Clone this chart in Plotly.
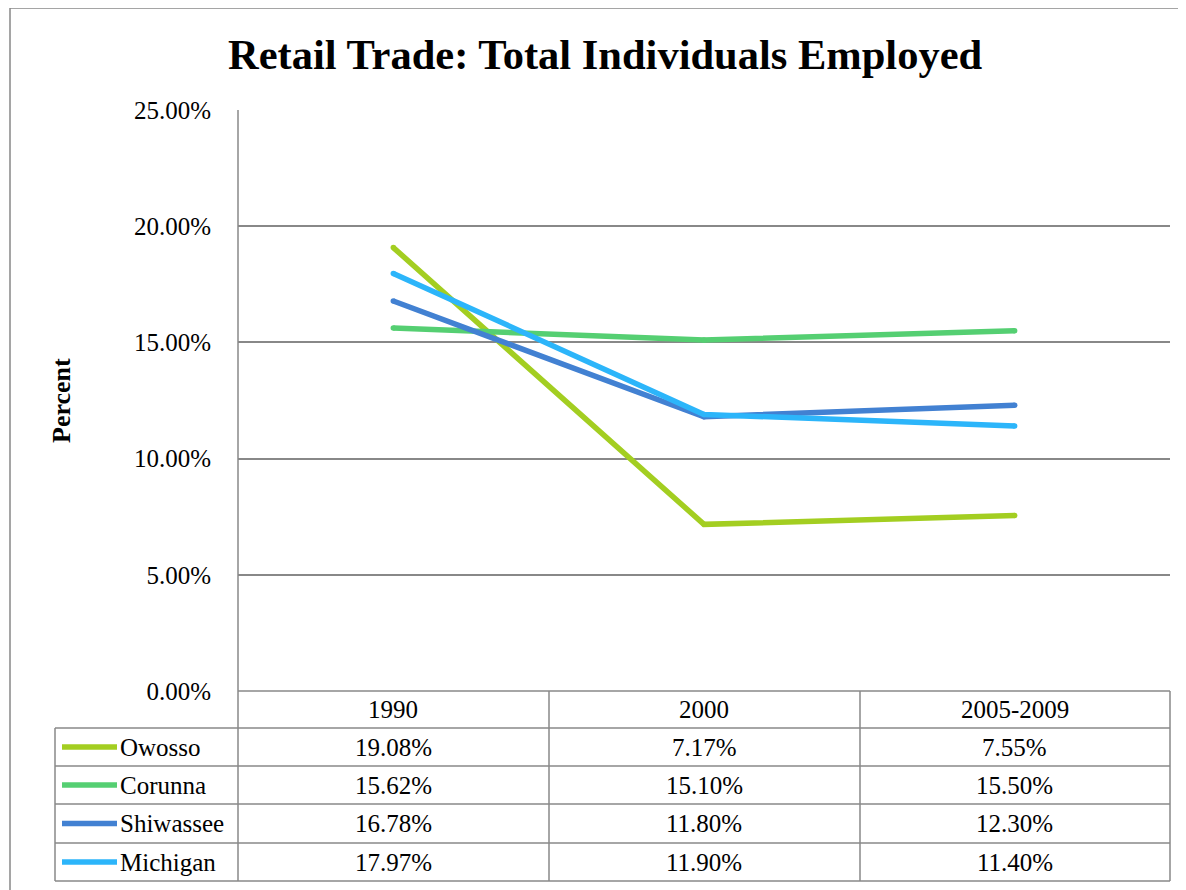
import plotly.graph_objects as go

# ---- data ----
categories = ["1990", "2000", "2005-2009"]
series_names = ["Owosso", "Corunna", "Shiwassee", "Michigan"]
owosso = [19.08, 7.17, 7.55]
corunna = [15.62, 15.10, 15.50]
shiwassee = [16.78, 11.80, 12.30]
michigan = [17.97, 11.90, 11.40]
series_values = [owosso, corunna, shiwassee, michigan]
y_ticks = [0, 5, 10, 15, 20, 25]

# ---- styles ----
colors = ["#A3CE21", "#55CF72", "#4281D2", "#2CB5FA"]
grid_col = "#888888"
FONT = "Liberation Serif, Times New Roman, serif"
W, H = 1186, 890
OFF = 8  # page body margin offset


def px(x):
    return (x - OFF) / W


def py(y):
    return 1 - (y - OFF) / H


PL, PR, PT, PB = 238, 1170, 110, 691
row_edges = [691, 728, 766, 804, 843, 881]
LEG_L = 55

fig = go.Figure()
for name, vals, col in zip(series_names, series_values, colors):
    fig.add_trace(go.Scatter(
        x=categories, y=vals, mode="lines+markers", name=name,
        line=dict(color=col, width=5.5),
        marker=dict(color=col, size=5.5, line=dict(width=0)),
        showlegend=False, cliponaxis=False,
    ))

shapes = []
# outer chart border
shapes.append(dict(type="rect", xref="paper", yref="paper",
                   x0=px(10), x1=1.05, y0=-0.05, y1=py(8),
                   line=dict(color=grid_col, width=1.5), layer="below"))
# left axis line extending through table
shapes.append(dict(type="line", xref="paper", yref="paper",
                   x0=px(PL), x1=px(PL), y0=py(PT), y1=py(row_edges[-1]),
                   line=dict(color=grid_col, width=1.5)))
# horizontal table lines
for i, ye in enumerate(row_edges):
    x0 = PL if i == 0 else LEG_L
    shapes.append(dict(type="line", xref="paper", yref="paper",
                       x0=px(x0), x1=px(PR), y0=py(ye), y1=py(ye),
                       line=dict(color=grid_col, width=1.5)))
# vertical table lines
for xv in [549, 860, PR]:
    shapes.append(dict(type="line", xref="paper", yref="paper",
                       x0=px(xv), x1=px(xv), y0=py(row_edges[0]), y1=py(row_edges[-1]),
                       line=dict(color=grid_col, width=1.5)))
shapes.append(dict(type="line", xref="paper", yref="paper",
                   x0=px(LEG_L), x1=px(LEG_L), y0=py(row_edges[1]), y1=py(row_edges[-1]),
                   line=dict(color=grid_col, width=1.5)))

annotations = []
# header categories (category index positions on the x axis)
hc = (row_edges[0] + row_edges[1]) / 2
for ci, c in enumerate(categories):
    annotations.append(dict(x=ci, xref="x", y=py(hc), yref="paper",
                            text=c, showarrow=False,
                            xanchor="center", yanchor="middle",
                            font=dict(size=25, color="black", family=FONT)))
# rows
for i, (name, vals, col) in enumerate(zip(series_names, series_values, colors)):
    yc = (row_edges[i + 1] + row_edges[i + 2]) / 2
    shapes.append(dict(type="line", xref="paper", yref="paper",
                       x0=px(62), x1=px(117), y0=py(yc), y1=py(yc),
                       line=dict(color=col, width=5.5)))
    annotations.append(dict(x=px(118), xref="paper", y=py(yc), yref="paper",
                            text=name, showarrow=False,
                            xanchor="left", yanchor="middle",
                            font=dict(size=25, color="black", family=FONT)))
    for ci, v in enumerate(vals):
        annotations.append(dict(x=ci, xref="x", y=py(yc), yref="paper",
                                text=f"{v:.2f}%", showarrow=False,
                                xanchor="center", yanchor="middle",
                                font=dict(size=25, color="black", family=FONT)))

# y-axis title
annotations.append(dict(x=px(61), xref="paper", y=py(401), yref="paper",
                        text="<b>Percent</b>", showarrow=False, textangle=-90,
                        xanchor="center", yanchor="middle",
                        font=dict(size=26, color="black", family=FONT)))
# title
annotations.append(dict(x=px(605), xref="paper", y=py(55), yref="paper",
                        text="<b>Retail Trade: Total Individuals Employed</b>",
                        showarrow=False, xanchor="center", yanchor="middle",
                        font=dict(size=42.5, color="black", family=FONT)))

fig.update_layout(
    template="none",
    width=W, height=H,
    margin=dict(l=0, r=0, t=0, b=0, autoexpand=False),
    paper_bgcolor="white", plot_bgcolor="white",
    xaxis=dict(domain=[px(PL), px(PR)], range=[-0.5, 2.5], type="category",
               showticklabels=False, showgrid=False, zeroline=False,
               showline=False, fixedrange=True, automargin=False, ticks=""),
    yaxis=dict(domain=[py(PB), py(PT)], range=[0, 25], tickvals=y_ticks,
               ticktext=[f"{t:.2f}%" for t in y_ticks],
               showgrid=True, gridcolor=grid_col, gridwidth=1.5,
               zeroline=False, showline=False, ticks="", automargin=False,
               ticklabelstandoff=26,
               tickfont=dict(size=25, color="black", family=FONT)),
    shapes=shapes, annotations=annotations,
)

fig.write_html("out.html")
